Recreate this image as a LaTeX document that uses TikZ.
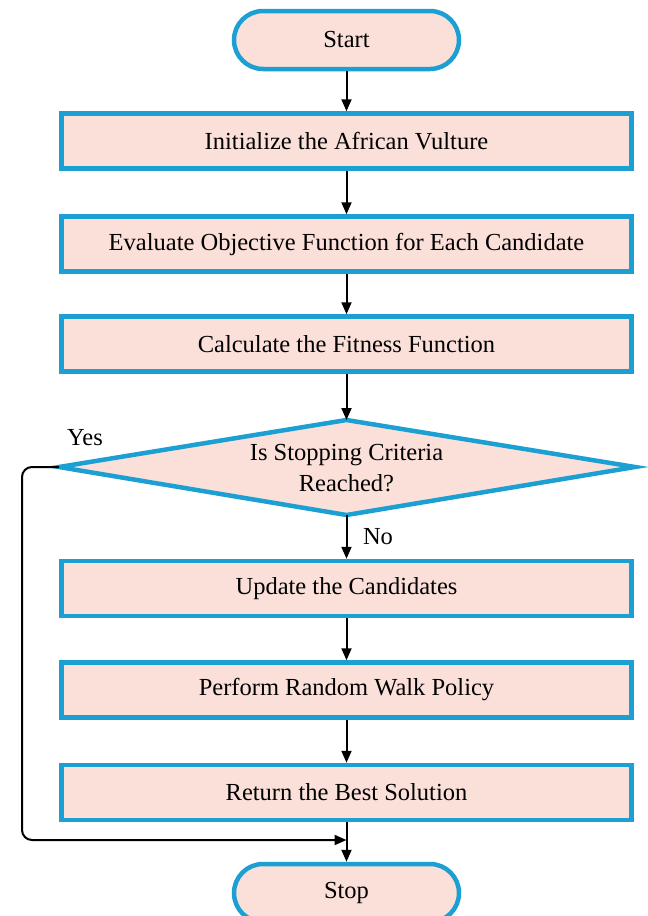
\documentclass[tikz,border=0pt]{standalone}
\usepackage{fontspec}
\setmainfont{Liberation Serif}
\usetikzlibrary{arrows.meta}
\definecolor{boxfill}{RGB}{251,224,218}
\definecolor{boxline}{RGB}{28,160,212}
\tikzset{
  txt/.style={font=\fontsize{24.5}{31}\selectfont, align=center},
  base/.style={draw=boxline, fill=boxfill, line width=4.5pt, txt, inner sep=0pt},
  term/.style={base, rectangle, rounded corners=29pt, minimum width=225pt, minimum height=58pt},
  procbox/.style={base, rectangle, minimum width=570pt, minimum height=55pt},
  arr/.style={-{Triangle[length=12pt,width=10pt]}, line width=2pt, black},
  lbl/.style={txt}
}
\begin{document}
\begin{tikzpicture}[x=1pt,y=-1pt]
\useasboundingbox (0,0) rectangle (648,916);
\node[term] (start) at (346.5,40) {Start};
\node[procbox] (b1) at (346.5,141) {Initialize the African Vulture};
\node[procbox] (b2) at (346.5,244) {Evaluate Objective Function for Each Candidate};
\node[procbox] (b3) at (346.5,344) {Calculate the Fitness Function};
\coordinate (dN) at (346.5,420);
\coordinate (dS) at (346.5,515);
\coordinate (dW) at (59,467);
\coordinate (dE) at (635,467);
\draw[draw=boxline, fill=boxfill, line width=4.5pt, line join=miter] (dN) -- (dE) -- (dS) -- (dW) -- cycle;
\node[txt, inner sep=0pt] (d) at (346.5,468) {Is Stopping Criteria\\Reached?};
\node[procbox] (b4) at (346.5,588.5) {Update the Candidates};
\node[procbox] (b5) at (346.5,690) {Perform Random Walk Policy};
\node[procbox] (b6) at (346.5,792.5) {Return the Best Solution};
\node[term] (stop) at (346.5,893) {Stop};
\coordinate (m) at (346.5,840);
\node[lbl] (yes) at (85,438) {Yes};
\node[lbl] (no) at (378,537) {No};
\draw[arr] (start) -- (b1);
\draw[arr] (b1) -- (b2);
\draw[arr] (b2) -- (b3);
\draw[arr] (b3) -- (dN);
\draw[arr] (dS) -- (b4);
\draw[arr] (b4) -- (b5);
\draw[arr] (b5) -- (b6);
\draw[arr] (b6) -- (stop);
\draw[arr, rounded corners=10pt] (dW) -- (22,467) -- (22,840) -- (m);
\end{tikzpicture}
\end{document}
